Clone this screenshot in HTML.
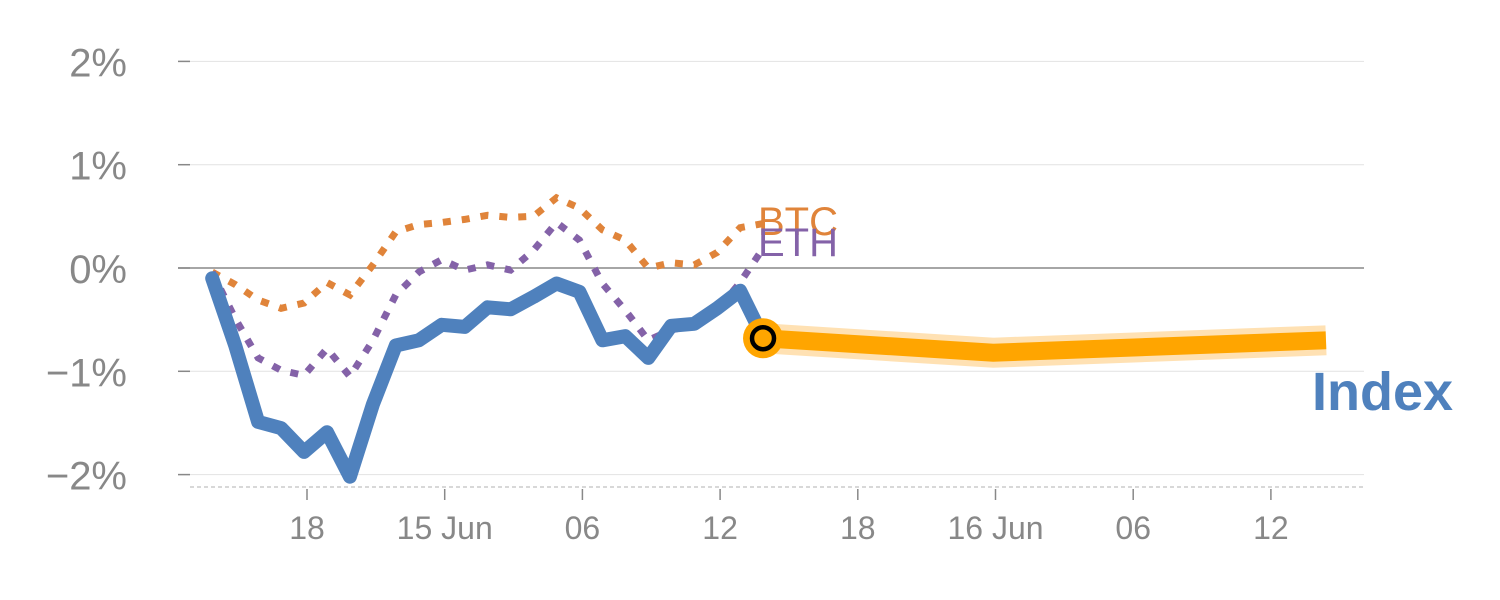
<!DOCTYPE html>
<html><head><meta charset="utf-8"><style>
body{margin:0;background:#fff}
svg{display:block;font-family:"Liberation Sans",Arial,sans-serif}
</style></head><body>
<svg id="chart" width="1500" height="600"></svg>
<script>
const yTicks=[2,1,0,-1,-2];
const yTickLabels=["2%","1%","0%","\u22121%","\u22122%"];
const xTickHours=[18,24,30,36,42,48,54,60];
const xTickLabels=["18","15 Jun","06","12","18","16 Jun","06","12"];
const histStartHour=13.87;
const indexValues=[-0.10,-0.75,-1.49,-1.55,-1.78,-1.59,-2.02,-1.32,-0.75,-0.70,-0.55,-0.57,-0.38,-0.40,-0.28,-0.15,-0.23,-0.70,-0.66,-0.87,-0.56,-0.54,-0.39,-0.22,-0.67];
const btcValues=[-0.04,-0.16,-0.31,-0.39,-0.34,-0.14,-0.26,0.03,0.35,0.42,0.44,0.47,0.51,0.49,0.50,0.68,0.58,0.37,0.27,0.00,0.05,0.03,0.15,0.39,0.43];
const ethValues=[-0.04,-0.49,-0.87,-0.99,-1.04,-0.78,-1.05,-0.70,-0.26,-0.04,0.08,-0.02,0.03,-0.02,0.17,0.44,0.27,-0.15,-0.41,-0.70,-0.60,-0.55,-0.41,-0.14,0.19];
const fcHours=[37.87,47.9,62.4];
const fcValues=[-0.68,-0.82,-0.70];

const svg=document.getElementById('chart');
const NS='http://www.w3.org/2000/svg';
const X=h=>307+(h-18)*22.95;
const Y=v=>268-v*103.3;
function mk(tag,attrs,parent){const e=document.createElementNS(NS,tag);for(const k in attrs)e.setAttribute(k,attrs[k]);(parent||svg).appendChild(e);return e;}

yTicks.forEach((t,i)=>{
  const g=mk('line',{x1:178,x2:1364,y1:Y(t),y2:Y(t),stroke:t===0?'#888':'#e2e2e2','stroke-width':t===0?1.5:1});
  
  
  const tk=mk('line',{x1:178,x2:190,y1:Y(t),y2:Y(t),stroke:'#888','stroke-width':1.5});
  
  
  const tx=mk('text',{x:127,y:Y(t)+15,'text-anchor':'end','font-size':40,fill:'#888'});
  tx.textContent=yTickLabels[i];
  
  
});
const base=mk('line',{x1:190,x2:1364,y1:487,y2:487,stroke:'#ccc','stroke-width':1.5,'stroke-dasharray':'4,3'});


xTickHours.forEach((h,i)=>{
  const tk=mk('line',{x1:X(h),x2:X(h),y1:489,y2:500,stroke:'#888','stroke-width':1.5});
  
  
  const tx=mk('text',{x:X(h),y:539,'text-anchor':'middle','font-size':32,fill:'#888'});
  tx.textContent=xTickLabels[i];
  
  
});
function pts(vals,start){return vals.map((v,i)=>X(start+i).toFixed(1)+','+Y(v).toFixed(1)).join(' ');}
const btc=mk('polyline',{points:pts(btcValues,histStartHour),fill:'none',stroke:'#e0843a','stroke-width':7,'stroke-dasharray':'8,11'});


const eth=mk('polyline',{points:pts(ethValues,histStartHour),fill:'none',stroke:'#8462a8','stroke-width':7,'stroke-dasharray':'8,11'});


const idx=mk('polyline',{points:pts(indexValues,histStartHour),fill:'none',stroke:'#4f81bd','stroke-width':14,'stroke-linejoin':'round','stroke-linecap':'round'});


const fcPts=fcValues.map((v,i)=>X(fcHours[i])+','+Y(v)).join(' ');
const fcGlow=mk('polyline',{points:fcPts,fill:'none',stroke:'#ffd9a0','stroke-width':30,'stroke-opacity':0.8});


const fc=mk('polyline',{points:fcPts,fill:'none',stroke:'#ffa500','stroke-width':18});


const dot=mk('circle',{cx:X(fcHours[0]),cy:Y(fcValues[0]),r:20,fill:'#ffa500'});


const dot2=mk('circle',{cx:X(fcHours[0]),cy:Y(fcValues[0]),r:11,fill:'#ffa500',stroke:'#000','stroke-width':4.5});


const lb=mk('text',{x:758,y:235,'font-size':40,fill:'#e0843a'});lb.textContent='BTC';


const le=mk('text',{x:758,y:256,'font-size':40,fill:'#8462a8'});le.textContent='ETH';


const li=mk('text',{x:1312,y:410,'font-size':54,'font-weight':'bold',fill:'#4f81bd'});li.textContent='Index';


</script>
</body></html>
